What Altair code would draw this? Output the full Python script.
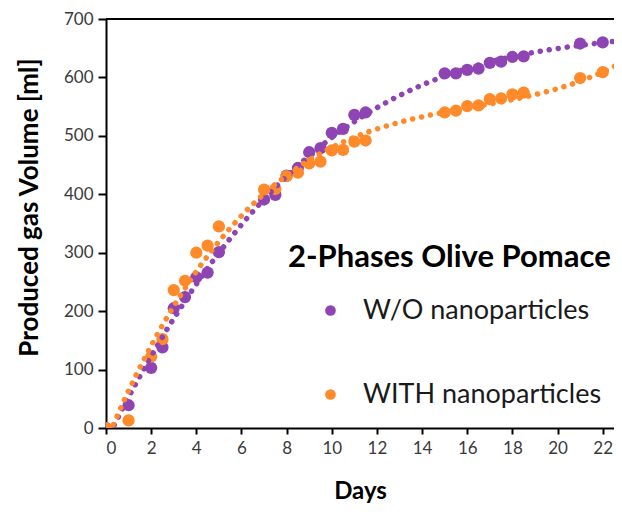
import altair as alt
import pandas as pd

days = [0, 1, 2, 2.5, 3, 3.5, 4, 4.5, 5, 7, 7.5, 8, 8.5, 9, 9.5, 10, 10.5, 11, 11.5,
        15, 15.5, 16, 16.5, 17, 17.5, 18, 18.5, 21, 22, 23]
wo_vals = [0, 39, 103, 138, 205, 224, 258, 266, 301, 391, 399, 432, 445, 472, 479, 505, 512, 536, 540,
           607, 607, 613, 615, 625, 627, 635, 636, 658, 660, 666]
with_vals = [0, 13, 122, 152, 236, 252, 300, 312, 345, 408, 409, 431, 437, 453, 456, 475, 476, 490, 492,
             540, 543, 551, 552, 563, 564, 571, 574, 599, 609, 615]
series_names = ["W/O nanoparticles", "WITH nanoparticles"]
colors = ["#8E44B3", "#FF8A2A"]
x_ticks = list(range(0, 23))
y_ticks = list(range(0, 701, 25))

df = pd.DataFrame({
    "day": days * 2,
    "volume": wo_vals + with_vals,
    "series": [series_names[0]] * len(days) + [series_names[1]] * len(days),
})

FONT = "Lato"

x_enc = alt.X("day:Q", scale=alt.Scale(domain=[0, 22.5], nice=False, zero=False),
              axis=alt.Axis(values=x_ticks,
                            labelExpr="datum.value % 2 == 0 ? datum.label : ''",
                            title="Days", grid=False, tickSize=6, labelPadding=6,
                            titlePadding=23))
y_enc = alt.Y("volume:Q", scale=alt.Scale(domain=[0, 700], nice=False),
              axis=alt.Axis(values=y_ticks,
                            labelExpr="datum.value % 100 == 0 ? datum.label : ''",
                            tickSize={"condition": {"test": "datum.value % 100 === 0", "value": 8}, "value": 5},
                            title="Produced gas Volume [ml]", grid=False, labelPadding=5,
                            titlePadding=21, titleFontSize=26, titleY=188))

legend = alt.Legend(title="2-Phases Olive Pomace", orient="none", legendX=182, legendY=224,
                    titleFontSize=31, titleFont=FONT, titleFontWeight="bold", titleColor="black",
                    labelFontSize=27, labelFont=FONT, labelColor="#1a1a1a",
                    symbolSize=113, symbolOffset=29, labelOffset=19, rowPadding=56,
                    titlePadding=23, padding=0, symbolStrokeWidth=0, symbolType="circle",
                    titleLimit=600, labelLimit=500)

color = alt.Color("series:N", scale=alt.Scale(domain=series_names, range=colors), legend=legend)

points = alt.Chart(df).mark_circle(size=150, opacity=1, clip=True).encode(
    x=x_enc, y=y_enc, color=color)

trend = alt.Chart(df).transform_regression(
    "day", "volume", groupby=["series"], method="poly", order=3, extent=[0, 23]
).mark_line(strokeDash=[0.1, 9], strokeCap="round", strokeWidth=5.5, clip=True).encode(
    x="day:Q", y="volume:Q",
    color=alt.Color("series:N", scale=alt.Scale(domain=series_names, range=colors), legend=None))

top = alt.Chart(df).mark_rule(color="black", strokeWidth=2).encode(y=alt.datum(700))

chart = alt.layer(points, trend, top).properties(
    width=508, height=409,
    autosize=alt.AutoSizeParams(type="none"),
    padding={"left": 98, "top": 11, "right": 0, "bottom": 77},
).configure_view(strokeWidth=0).configure_axis(
    domainColor="black", domainWidth=2, tickColor="black", tickWidth=2,
    labelFont=FONT, labelFontSize=17, labelColor="#3a3a3a",
    titleFont=FONT, titleFontSize=24, titleFontWeight="bold", titleColor="black",
)

chart.save("out.html", embed_options={"renderer": "svg", "actions": False})
